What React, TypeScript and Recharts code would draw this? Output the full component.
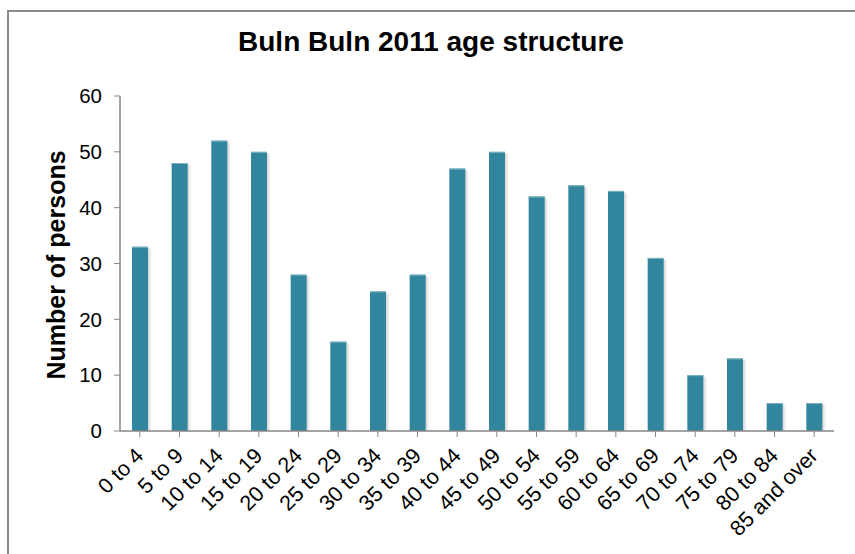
import { BarChart, Bar, XAxis, YAxis } from "recharts";

const ageGroups = [
  "0 to 4", "5 to 9", "10 to 14", "15 to 19", "20 to 24", "25 to 29",
  "30 to 34", "35 to 39", "40 to 44", "45 to 49", "50 to 54", "55 to 59",
  "60 to 64", "65 to 69", "70 to 74", "75 to 79", "80 to 84", "85 and over",
];
const persons = [33, 48, 52, 50, 28, 16, 25, 28, 47, 50, 42, 44, 43, 31, 10, 13, 5, 5];
const yTicks = [0, 10, 20, 30, 40, 50, 60];

const data = ageGroups.map((age, i) => ({ age, persons: persons[i] }));

const FONT = "'Liberation Sans', Arial, sans-serif";
const AXIS = "#868686";
const BAR = "#31859c";

const AgeTick = ({ x, y, payload }: any) => (
  <g transform={`translate(${x + 5},${y + 18})`}>
    <text
      transform="rotate(-45)"
      textAnchor="end"
      fontFamily={FONT}
      fontSize={21.5}
      fill="#000"
    >
      {payload.value}
    </text>
  </g>
);

const ShadowBar = (props: any) => {
  const { x, y, width, height } = props;
  if (!height || height <= 0) return null;
  return (
    <g>
      <rect x={x + 3} y={y + 2} width={width} height={height - 2} fill="#000" opacity={0.07} />
      <rect x={x + 1.5} y={y + 1} width={width} height={height - 1} fill="#000" opacity={0.07} />
      <rect x={x} y={y} width={width} height={height} fill={BAR} />
      <rect x={x} y={y} width={width} height={1} fill="#7fb5c4" />
    </g>
  );
};

export default function App() {
  return (
    <div style={{ position: "absolute", left: 0, top: 0, width: 855, height: 554, background: "#fff", overflow: "hidden" }}>
      {/* frame, only top and left edges visible */}
      <div
        style={{
          position: "absolute",
          left: 7,
          top: 10,
          width: 900,
          height: 600,
          borderTop: "2px solid #8a8a8a",
          borderLeft: "2px solid #8a8a8a",
        }}
      />
      <div
        style={{
          position: "absolute",
          left: 0,
          top: 26,
          width: 862,
          textAlign: "center",
          fontFamily: FONT,
          fontWeight: "bold",
          fontSize: 28,
          color: "#000",
        }}
      >
        Buln Buln 2011 age structure
      </div>
      <div
        style={{
          position: "absolute",
          left: 56,
          top: 265,
          transform: "translate(-50%, -50%) rotate(-90deg)",
          whiteSpace: "nowrap",
          fontFamily: FONT,
          fontWeight: "bold",
          fontSize: 25,
          color: "#000",
        }}
      >
        Number of persons
      </div>
      <div style={{ position: "absolute", left: 0, top: 0 }}>
        <BarChart
          width={855}
          height={554}
          data={data}
          margin={{ top: 96, right: 21, left: 0, bottom: 0 }}
          barSize={16}
        >
          <XAxis
            dataKey="age"
            interval={0}
            tick={<AgeTick />}
            tickLine={{ stroke: AXIS }}
            axisLine={{ stroke: AXIS, strokeWidth: 1.5 }}
            tickSize={6}
            height={123}
          />
          <YAxis
            width={120}
            domain={[0, 60]}
            ticks={yTicks}
            interval={0}
            tick={{ fontFamily: FONT, fontSize: 20.5, fill: "#000" }}
            tickLine={{ stroke: AXIS }}
            axisLine={{ stroke: AXIS, strokeWidth: 1.5 }}
            tickSize={6}
            tickMargin={12}
          />
          <Bar dataKey="persons" shape={<ShadowBar />} isAnimationActive={false} />
        </BarChart>
      </div>
    </div>
  );
}
